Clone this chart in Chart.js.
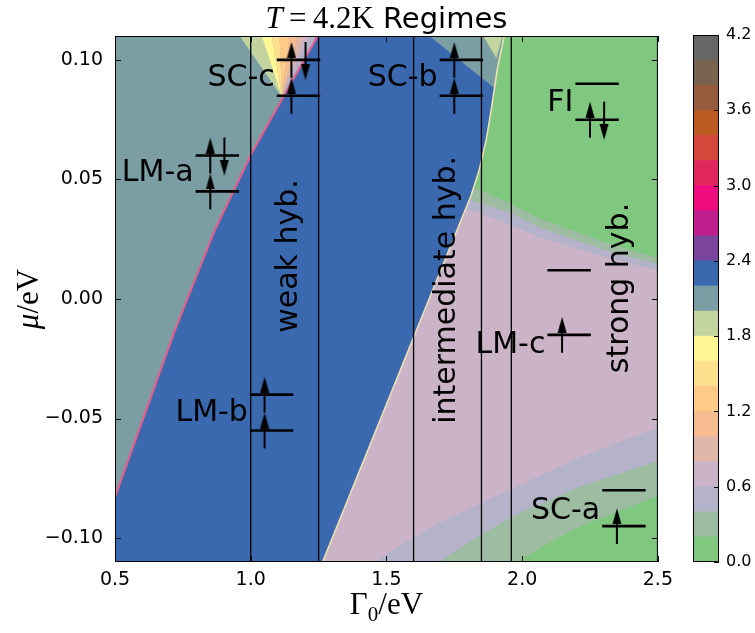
<!DOCTYPE html>
<html>
<head>
<meta charset="utf-8">
<script src="https://cdn.jsdelivr.net/npm/chart.js@4.4.1/dist/chart.umd.min.js"></script>
<style>
  html, body { margin: 0; padding: 0; background: #fff; }
  #wrap { position: relative; width: 755px; height: 633px; }
  #main { position: absolute; left: 0; top: 0; }
  #cbar { position: absolute; left: 680px; top: 0; }
</style>
</head>
<body>
<div id="wrap">
  <canvas id="main" width="680" height="633"></canvas>
  <canvas id="cbar" width="75" height="633"></canvas>
</div>
<script>
// ---------- axes ----------
const X_MIN = 0.5, X_MAX = 2.5, Y_MIN = -0.11, Y_MAX = 0.11;
const X_TICKS = [0.5, 1.0, 1.5, 2.0, 2.5];
const Y_TICKS = [-0.10, -0.05, 0.00, 0.05, 0.10];

// ---------- colour levels (colorbar) ----------
const CB_LEVELS = [0.0, 0.2, 0.4, 0.6, 0.8, 1.0, 1.2, 1.4, 1.6, 1.8, 2.0, 2.2, 2.4, 2.6, 2.8, 3.0, 3.2, 3.4, 3.6, 3.8, 4.0, 4.2];
const CB_TICKS = [0.0, 0.6, 1.2, 1.8, 2.4, 3.0, 3.6, 4.2];
const CB_COLORS = ['#80c780', '#9dbca2', '#b4b3c9', '#cbb3c8', '#dfb6a8', '#f6bb8f', '#fdca88', '#fee08f',
  '#fff894', '#c4d4a1', '#7b9ea5', '#3a69b0', '#7c459c', '#c01e8f', '#ef0c7f', '#e0285f',
  '#d4473b', '#bb5a21', '#965b3c', '#77634f', '#666666'];

// ---------- region boundaries ----------
// left edge of the blue band (gray-teal | blue)
const EDGE_LEFT_X = [0.5, 0.7206, 0.8676, 1.0037, 1.2463];
const EDGE_LEFT_Y = [-0.0828, -0.0130, 0.0289, 0.0611, 0.1100];
// right edge of the blue band, top to bottom
const EDGE_RIGHT_X = [1.9338, 1.9081, 1.8860, 1.8676, 1.8419, 1.8125, 1.2647];
const EDGE_RIGHT_Y = [0.1100, 0.0958, 0.0791, 0.0665, 0.0540, 0.0435, -0.1100];

// upper right bands: green | gray-green | lavender | pink
const UP_LEFT_X = 1.70;
const LINE_G_X = [1.75, 1.8309, 1.9522, 2.0625, 2.2831, 2.5];
const LINE_G_Y = [0.0500, 0.0464, 0.0402, 0.0339, 0.0247, 0.0172];
const LINE_L_X = [1.75, 1.8309, 1.9522, 2.0625, 2.2831, 2.5];
const LINE_L_Y = [0.0440, 0.0406, 0.0364, 0.0301, 0.0213, 0.0146];
const LINE_P_X = [1.75, 1.8309, 1.9522, 2.0625, 2.2831, 2.5];
const LINE_P_Y = [0.0390, 0.0364, 0.0314, 0.0259, 0.0184, 0.0121];

// lower right bands: pink | lavender | gray-green | green
const LINE_A_X = [1.4559, 1.5846, 1.6949, 1.9154, 2.2096, 2.5];
const LINE_A_Y = [-0.1100, -0.1008, -0.0937, -0.0820, -0.0665, -0.0540];
const LINE_B_X = [1.6949, 1.8235, 1.9632, 2.2096, 2.5];
const LINE_B_Y = [-0.1100, -0.1004, -0.0912, -0.0787, -0.0678];
const LINE_C_X = [1.9779, 2.0809, 2.2096, 2.5];
const LINE_C_Y = [-0.1100, -0.1033, -0.0954, -0.0824];

// fan of levels above SC-c
const FAN_TOP_X = [0.9596, 1.0404, 1.0772, 1.1066, 1.1434, 1.1728, 1.1985, 1.2169, 1.2463];
const FAN_LEVELS = [9, 8, 7, 6, 5, 4, 3, 2];
const FAN_APEX_X = 1.115, FAN_APEX_Y = 0.0845;

// small patches above SC-b
const PATCH_TEAL_X = [1.6581, 1.9338, 1.9081, 1.8971];
const PATCH_TEAL_Y = [0.1100, 0.1100, 0.0958, 0.0883];
const PATCH_SAGE_X = [1.8566, 1.9265, 1.9044];
const PATCH_SAGE_Y = [0.1100, 0.1100, 0.1008];

// regime dividers
const VLINES_X = [1.0, 1.25, 1.6, 1.85, 1.96];

// ---------- level diagrams ----------
const DIAG_NAMES = ['SC-a', 'SC-b', 'SC-c', 'LM-a', 'LM-b', 'LM-c', 'FI'];
const DIAG_X = [2.375, 1.776, 1.176, 0.877, 1.077, 2.173, 2.276];
const DIAG_UPPER = [-0.080, 0.100, 0.100, 0.060, -0.040, 0.012, 0.090];
const DIAG_LOWER = [-0.095, 0.085, 0.085, 0.045, -0.055, -0.015, 0.075];
const DIAG_LABEL_Y = [-0.0874, 0.0937, 0.0937, 0.0540, -0.0464, -0.0180, 0.0833];
const DIAG_UPPER_SPINS = ['', 'u', 'ud', 'ud', 'u', '', ''];
const DIAG_LOWER_SPINS = ['u', 'u', 'u', 'u', 'u', 'u', 'ud'];

// ---------- rotated regime labels ----------
const ROT_TEXT = ['weak hyb.', 'intermediate hyb.', 'strong hyb.'];
const ROT_X = [1.14, 1.724, 2.36];
const ROT_Y = [0.0180, 0.0038, 0.0046];

// geometry of the diagrams (style)
const BAR_HALF = 0.08, SPIN_DX = 0.026, SPIN_HALF = 0.0075, SHAFT_TRIM = 0.004;

const SANS = '"DejaVu Sans", sans-serif';
const SERIF = '"Liberation Serif", "DejaVu Serif", serif';

// arrow head used as point style (tip at the centre)
const HEAD = document.createElement('canvas');
HEAD.width = 10; HEAD.height = 32;
(function () {
  const c = HEAD.getContext('2d');
  c.fillStyle = '#000';
  c.beginPath(); c.moveTo(5, 16); c.lineTo(9.5, 32); c.lineTo(0.5, 32); c.closePath(); c.fill();
})();

function pts(xs, ys) { return xs.map((x, i) => ({ x: x, y: ys[i] })); }

const datasets = [];
function addPoly(xs, ys, color) {
  datasets.push({ data: pts(xs, ys), showLine: true, fill: 'shape', backgroundColor: color,
    borderColor: color, borderWidth: 0.5, pointRadius: 0, tension: 0, clip: 0 });
}
function addLine(xs, ys, color, width) {
  datasets.push({ data: pts(xs, ys), showLine: true, fill: false, borderColor: color,
    borderWidth: width, pointRadius: 0, tension: 0, borderCapStyle: 'butt', clip: 0 });
}

// bottom to top
addPoly([X_MIN, X_MAX, X_MAX, X_MIN], [Y_MIN, Y_MIN, Y_MAX, Y_MAX], CB_COLORS[3]);
addPoly(LINE_A_X.concat([X_MAX]), LINE_A_Y.concat([Y_MIN]), CB_COLORS[2]);
addPoly(LINE_B_X.concat([X_MAX]), LINE_B_Y.concat([Y_MIN]), CB_COLORS[1]);
addPoly(LINE_C_X.concat([X_MAX]), LINE_C_Y.concat([Y_MIN]), CB_COLORS[0]);
addPoly([UP_LEFT_X].concat(LINE_P_X, [X_MAX]), [Y_MAX].concat(LINE_P_Y, [Y_MAX]), CB_COLORS[2]);
addPoly([UP_LEFT_X].concat(LINE_L_X, [X_MAX]), [Y_MAX].concat(LINE_L_Y, [Y_MAX]), CB_COLORS[1]);
addPoly([UP_LEFT_X].concat(LINE_G_X, [X_MAX]), [Y_MAX].concat(LINE_G_Y, [Y_MAX]), CB_COLORS[0]);
addPoly([X_MIN].concat(EDGE_LEFT_X.slice().reverse()), [Y_MAX].concat(EDGE_LEFT_Y.slice().reverse()), CB_COLORS[10]);
for (let i = 0; i < FAN_LEVELS.length; i++) {
  addPoly([FAN_TOP_X[i], FAN_TOP_X[i + 1], FAN_APEX_X], [Y_MAX, Y_MAX, FAN_APEX_Y], CB_COLORS[FAN_LEVELS[i]]);
}
addPoly([X_MIN].concat(EDGE_LEFT_X, EDGE_RIGHT_X), [Y_MIN].concat(EDGE_LEFT_Y, EDGE_RIGHT_Y), CB_COLORS[11]);
addPoly(PATCH_TEAL_X, PATCH_TEAL_Y, CB_COLORS[10]);
addPoly(PATCH_SAGE_X, PATCH_SAGE_Y, CB_COLORS[9]);

// thin compressed contour bundles along the band edges
addLine(EDGE_LEFT_X, EDGE_LEFT_Y, '#e2608c', 2.2);
addLine(EDGE_RIGHT_X, EDGE_RIGHT_Y, '#efe2b2', 1.6);

// regime dividers
VLINES_X.forEach(v => addLine([v, v], [Y_MIN, Y_MAX], '#000', 1.3));

// level diagrams
const upTipX = [], upTipY = [], dnTipX = [], dnTipY = [];
DIAG_X.forEach((c, i) => {
  [[DIAG_UPPER[i], DIAG_UPPER_SPINS[i]], [DIAG_LOWER[i], DIAG_LOWER_SPINS[i]]].forEach(([lvl, spins]) => {
    addLine([c - BAR_HALF, c + BAR_HALF], [lvl, lvl], '#000', 2.6);
    if (spins.includes('u')) {
      addLine([c - SPIN_DX, c - SPIN_DX], [lvl - SPIN_HALF, lvl + SPIN_HALF - SHAFT_TRIM], '#000', 2);
      upTipX.push(c - SPIN_DX); upTipY.push(lvl + SPIN_HALF);
    }
    if (spins.includes('d')) {
      addLine([c + SPIN_DX, c + SPIN_DX], [lvl + SPIN_HALF, lvl - SPIN_HALF - 0.001 + SHAFT_TRIM], '#000', 2);
      dnTipX.push(c + SPIN_DX); dnTipY.push(lvl - SPIN_HALF - 0.001);
    }
  });
});
datasets.push({ data: pts(upTipX, upTipY), showLine: false, pointStyle: HEAD, pointRadius: 3, pointRotation: 0 });
datasets.push({ data: pts(dnTipX, dnTipY), showLine: false, pointStyle: HEAD, pointRadius: 3, pointRotation: 180 });

datasets.forEach((d, i) => { d.order = datasets.length - i; });

// ---------- decorations: frame, inward ticks, texts ----------
function drawRun(ctx, parts, cx, cy) {
  let w = 0;
  parts.forEach(p => { ctx.font = p[1]; w += ctx.measureText(p[0]).width; });
  let tx = cx - w / 2;
  parts.forEach(p => { ctx.font = p[1]; ctx.fillText(p[0], tx, cy + (p[2] || 0)); tx += ctx.measureText(p[0]).width; });
}

const decor = {
  id: 'decor',
  afterDraw(chart) {
    const { ctx, chartArea: a, scales: { x, y } } = chart;
    ctx.save();
    ctx.strokeStyle = '#000';
    ctx.lineWidth = 1;
    ctx.strokeRect(a.left + 0.5, a.top + 0.5, a.right - a.left - 1, a.bottom - a.top - 1);
    ctx.beginPath();
    X_TICKS.forEach(v => {
      const px = Math.round(x.getPixelForValue(v)) + 0.5;
      ctx.moveTo(px, a.bottom); ctx.lineTo(px, a.bottom - 6);
      ctx.moveTo(px, a.top); ctx.lineTo(px, a.top + 6);
    });
    Y_TICKS.forEach(v => {
      const py = Math.round(y.getPixelForValue(v)) + 0.5;
      ctx.moveTo(a.left, py); ctx.lineTo(a.left + 6, py);
      ctx.moveTo(a.right, py); ctx.lineTo(a.right - 6, py);
    });
    ctx.stroke();

    ctx.fillStyle = '#000';
    // diagram names
    ctx.font = '30px ' + SANS;
    ctx.textAlign = 'right';
    ctx.textBaseline = 'alphabetic';
    DIAG_NAMES.forEach((n, i) => {
      const px = x.getPixelForValue(DIAG_X[i] - BAR_HALF) - 2;
      const py = y.getPixelForValue(DIAG_LABEL_Y[i]) + 11;
      ctx.fillText(n, px, py);
    });
    // rotated regime labels
    ctx.textAlign = 'center';
    ctx.textBaseline = 'middle';
    ROT_TEXT.forEach((t, i) => {
      ctx.save();
      ctx.translate(x.getPixelForValue(ROT_X[i]), y.getPixelForValue(ROT_Y[i]));
      ctx.rotate(-Math.PI / 2);
      ctx.fillText(t, 0, 0);
      ctx.restore();
    });

    ctx.textAlign = 'left';
    ctx.textBaseline = 'alphabetic';
    // title: T=4.2K Regimes
    drawRun(ctx, [['T', 'italic 31px ' + SERIF], ['\u2009=\u2009', '31px ' + SERIF],
      ['4.2K', '31px ' + SERIF], [' Regimes', '29px ' + SANS]], (a.left + a.right) / 2, 28);
    // x axis label: Γ0/eV
    drawRun(ctx, [['\u0393', '31px ' + SERIF], ['0', '21px ' + SERIF, 7], ['/eV', '31px ' + SERIF]],
      (a.left + a.right) / 2, 614);
    // y axis label: μ/eV
    ctx.save();
    ctx.translate(38, (a.top + a.bottom) / 2);
    ctx.rotate(-Math.PI / 2);
    drawRun(ctx, [['\u03bc', 'italic 31px ' + SERIF], ['/eV', '31px ' + SERIF]], 0, 0);
    ctx.restore();
    ctx.restore();
  }
};

const fmtMinus = v => (v < 0 ? '\u2212' : '') + Math.abs(v).toFixed(2);

new Chart(document.getElementById('main'), {
  type: 'line',
  data: { datasets: datasets },
  options: {
    responsive: false,
    animation: false,
    layout: { padding: { top: 36, right: 21, left: 0, bottom: 0 } },
    plugins: { legend: { display: false }, tooltip: { enabled: false } },
    scales: {
      x: {
        type: 'linear', min: X_MIN, max: X_MAX,
        afterBuildTicks: s => { s.ticks = X_TICKS.map(v => ({ value: v })); },
        afterFit: s => { s.height = 71; },
        grid: { display: false, drawTicks: false },
        border: { display: false },
        ticks: { color: '#000', padding: 7, font: { family: 'DejaVu Sans', size: 19 }, callback: v => v.toFixed(1), maxRotation: 0 }
      },
      y: {
        type: 'linear', min: Y_MIN, max: Y_MAX,
        afterBuildTicks: s => { s.ticks = Y_TICKS.map(v => ({ value: v })); },
        afterFit: s => { s.width = 115; },
        grid: { display: false, drawTicks: false },
        border: { display: false },
        ticks: { color: '#000', padding: 12, font: { family: 'DejaVu Sans', size: 19 }, callback: fmtMinus }
      }
    }
  },
  plugins: [decor]
});

// ---------- colorbar ----------
const cbFrame = {
  id: 'cbFrame',
  afterDraw(chart) {
    const { ctx, chartArea: a, scales: { y } } = chart;
    ctx.save();
    ctx.strokeStyle = '#000';
    ctx.lineWidth = 1;
    ctx.strokeRect(a.left + 0.5, a.top + 0.5, a.right - a.left - 1, a.bottom - a.top - 1);
    ctx.beginPath();
    CB_TICKS.forEach(v => {
      const py = Math.round(y.getPixelForValue(v)) + 0.5;
      ctx.moveTo(a.right, py); ctx.lineTo(a.right - 5, py);
    });
    ctx.stroke();
    ctx.restore();
  }
};

new Chart(document.getElementById('cbar'), {
  type: 'bar',
  data: {
    labels: ['cb'],
    datasets: CB_COLORS.map((c, i) => ({
      data: [[CB_LEVELS[i], CB_LEVELS[i + 1]]],
      backgroundColor: c, borderWidth: 0, grouped: false,
      barPercentage: 1, categoryPercentage: 1
    }))
  },
  options: {
    responsive: false,
    animation: false,
    layout: { padding: { top: 35, right: 0, left: 13, bottom: 71 } },
    plugins: { legend: { display: false }, tooltip: { enabled: false } },
    scales: {
      x: { display: false },
      y: {
        position: 'right', min: 0, max: 4.2,
        afterBuildTicks: s => { s.ticks = CB_TICKS.map(v => ({ value: v })); },
        afterFit: s => { s.width = 36; },
        grid: { display: false, drawTicks: false },
        border: { display: false },
        ticks: { color: '#000', padding: 7, font: { family: 'DejaVu Sans', size: 16 }, callback: v => v.toFixed(1) }
      }
    }
  },
  plugins: [cbFrame]
});
</script>
</body>
</html>
